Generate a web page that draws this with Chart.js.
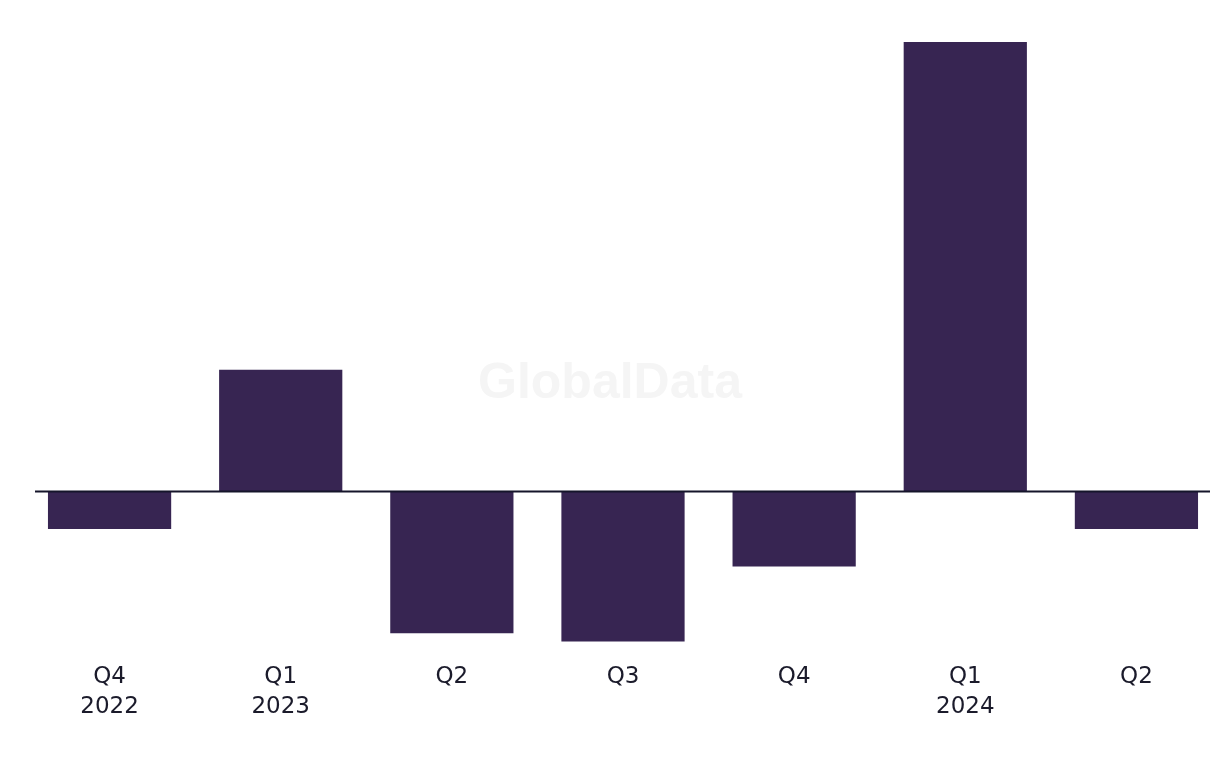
<!DOCTYPE html>
<html>
<head>
<meta charset="utf-8">
<script src="https://cdn.jsdelivr.net/npm/chart.js@4/dist/chart.umd.min.js"></script>
<style>
  html, body { margin: 0; padding: 0; background: #ffffff; overflow: hidden; }
  #wrap { width: 1222px; height: 768px; }
</style>
</head>
<body>
<div id="wrap"><canvas id="chartQ"></canvas></div>
<script>
const labels = [["Q4", "2022"], ["Q1", "2023"], "Q2", "Q3", "Q4", ["Q1", "2024"], "Q2"];
const values = [-1, 3.25, -3.78, -4, -2, 12, -1];

// zero line + faint watermark
const extras = {
  id: "extras",
  beforeDatasetsDraw(chart) {
    const { ctx } = chart;
    ctx.save();
    ctx.font = "bold 50px 'Liberation Sans', Arial, sans-serif";
    ctx.fillStyle = "#f5f5f5";
    ctx.textAlign = "center";
    ctx.textBaseline = "middle";
    ctx.fillText("GlobalData", 610, 384);
    ctx.restore();
  },
  afterDatasetsDraw(chart) {
    const { ctx } = chart;
    const y0 = chart.scales.y.getPixelForValue(0);
    ctx.save();
    ctx.strokeStyle = "#15152a";
    ctx.lineWidth = 2;
    ctx.beginPath();
    ctx.moveTo(35, y0);
    ctx.lineTo(1210, y0);
    ctx.stroke();
    ctx.restore();
  },
};

document.addEventListener("DOMContentLoaded", () => {
  new Chart(document.querySelector("#chartQ"), {
    type: "bar",
    data: {
      labels: labels,
      datasets: [
        {
          label: "Change",
          data: values,
          backgroundColor: "#372552",
          borderWidth: 0,
          categoryPercentage: 0.72,
          barPercentage: 1,
        },
      ],
    },
    options: {
      responsive: true,
      maintainAspectRatio: false,
      animation: false,
      layout: { padding: { left: 24, right: 0, top: 42, bottom: 44 } },
      scales: {
        x: {
          grid: { display: false, drawTicks: false },
          border: { display: false },
          ticks: {
            color: "#1b1b2b",
            padding: 2,
            maxRotation: 0,
            autoSkip: false,
            font: { family: "'DejaVu Sans', sans-serif", size: 23, lineHeight: 1.3 },
          },
        },
        y: {
          display: false,
          min: -4.5,
          max: 12,
        },
      },
      plugins: {
        legend: { display: false },
        tooltip: { enabled: false },
      },
    },
    plugins: [extras],
  });
});
</script>
</body>
</html>
